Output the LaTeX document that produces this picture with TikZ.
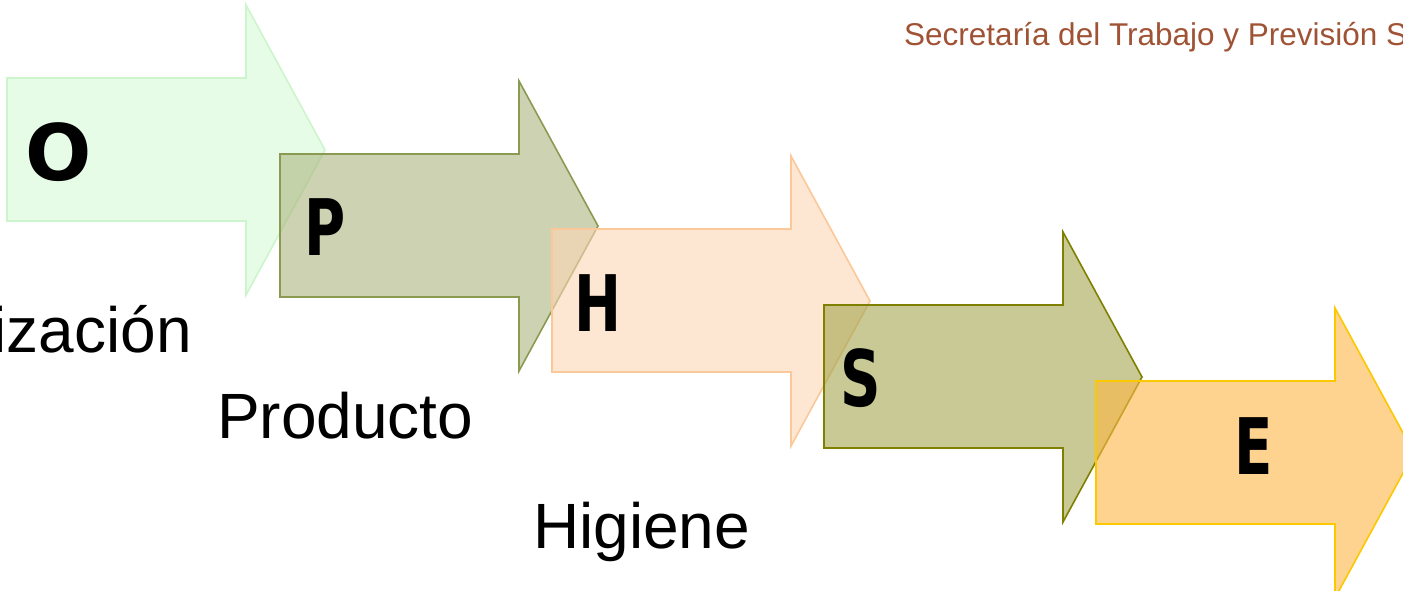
\documentclass[tikz,border=0pt]{standalone}
\usepackage{fontspec}
\setmainfont{Liberation Sans}
\newfontfamily\decofont{DejaVu Sans}
\definecolor{fA}{RGB}{215,250,215}\definecolor{dA}{RGB}{204,245,204}
\definecolor{fB}{RGB}{172,182,127}\definecolor{dB}{RGB}{138,154,80}
\definecolor{fC}{RGB}{252,213,180}\definecolor{dC}{RGB}{251,200,154}
\definecolor{fD}{RGB}{163,165,77}\definecolor{dD}{RGB}{128,128,0}
\definecolor{fE}{RGB}{252,182,68}\definecolor{dE}{RGB}{252,200,0}
\definecolor{brownt}{RGB}{160,82,52}
\newcommand\bigarrow[3]{%
  \draw[#3] (#1,#2) -- (#1+239,#2) -- (#1+239,#2-73) -- (#1+318,#2+72)
    -- (#1+239,#2+217) -- (#1+239,#2+143) -- (#1,#2+143) -- cycle;}
\tikzset{
  arr/.style={line width=1.6pt, fill opacity=0.6, line join=miter},
  letter/.style={font=\decofont\bfseries\fontsize{78}{80}\selectfont, inner sep=0pt},
  lbl/.style={font=\fontsize{64}{70}\selectfont, inner sep=0pt, anchor=base west},
}
\begin{document}
\begin{tikzpicture}[x=1pt,y=-1pt]
\useasboundingbox (0,0) rectangle (1403,591);
\bigarrow{7}{78}{arr, fill=fA, draw=dA}
\bigarrow{280}{154}{arr, fill=fB, draw=dB}
\bigarrow{552}{229}{arr, fill=fC, draw=dC}
\bigarrow{824}{305}{arr, fill=fD, draw=dD}
\bigarrow{1096}{381}{arr, fill=fE, draw=dE}
\node[letter] (lO) at (59,152) {O};
\node[letter, xscale=0.72] (lP) at (325,227) {P};
\node[letter, xscale=0.72] (lH) at (598,303) {H};
\node[letter, xscale=0.72] (lS) at (861,378) {S};
\node[letter, xscale=0.72] (lE) at (1254,446) {E};
\node[lbl, anchor=base east] (t1) at (192,352) {ización};
\node[lbl] (t2) at (217,438) {Producto};
\node[lbl] (t3) at (533,548) {Higiene};
\node[font=\fontsize{31.5}{34}\selectfont, text=brownt, inner sep=0pt, anchor=base west] (t4) at (904,46) {Secretaría del Trabajo y Previsión S};
\end{tikzpicture}
\end{document}
